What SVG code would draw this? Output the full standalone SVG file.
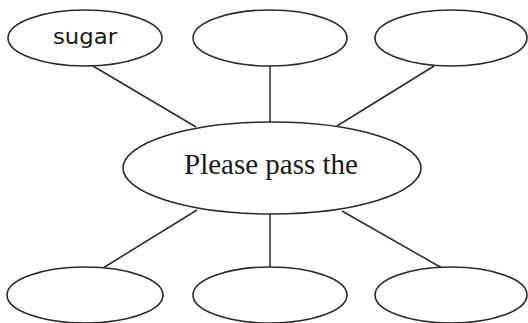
<svg xmlns="http://www.w3.org/2000/svg" width="528" height="323" viewBox="0 0 528 323">
<style>
.n{fill:#fff;stroke:#2a2a2a;stroke-width:1.6}
.c line{stroke:#2a2a2a;stroke-width:1.5}
.t{font-family:"Liberation Serif",serif;font-size:29px;fill:#1a1a1a}
.h{font-family:"DejaVu Sans",sans-serif;font-size:22px;fill:#1a1a1a}
</style>
<rect width="528" height="323" fill="#fff"/>
<g class="c" id="connectors">
<line x1="93" y1="66" x2="196" y2="127"/>
<line x1="270" y1="66" x2="270" y2="123"/>
<line x1="434" y1="66" x2="337" y2="126"/>
<line x1="197" y1="210" x2="103" y2="268"/>
<line x1="270" y1="214" x2="270" y2="268"/>
<line x1="342" y1="211" x2="442" y2="268"/>
</g>
<g id="center"><ellipse class="n" cx="272" cy="168" rx="149" ry="46"/><text class="t" x="271" y="174" text-anchor="middle">Please pass the</text></g>
<g id="top-left"><ellipse class="n" cx="85" cy="38" rx="77" ry="28"/><text class="h" x="53" y="44" textLength="64" lengthAdjust="spacingAndGlyphs">sugar</text></g>
<g id="top-middle"><ellipse class="n" cx="270" cy="38" rx="77" ry="28"/></g>
<g id="top-right"><ellipse class="n" cx="451" cy="38" rx="76" ry="28"/></g>
<g id="bottom-left"><ellipse class="n" cx="85" cy="295" rx="78" ry="28"/></g>
<g id="bottom-middle"><ellipse class="n" cx="270" cy="295" rx="77" ry="28"/></g>
<g id="bottom-right"><ellipse class="n" cx="451" cy="295" rx="76" ry="28"/></g>
</svg>
